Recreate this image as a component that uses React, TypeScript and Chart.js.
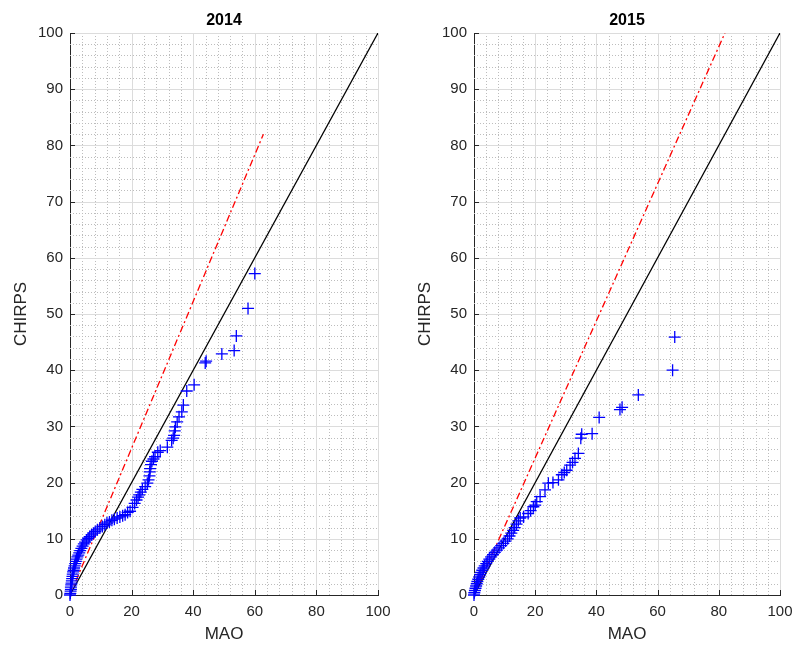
import React, { useEffect, useRef } from 'react';
import { Chart, registerables } from 'chart.js';

Chart.register(...registerables);

// ---------- data ----------
const panelTitles = ['2014', '2015'];

const mao2014 = [
  0, 0.1, 0.2, 0.3, 0.3, 0.4, 0.5, 0.6, 0.7, 0.8, 0.9, 1.0, 1.2, 1.3, 1.5, 1.7, 1.9, 2.1, 2.4, 2.7,
  3.0, 3.3, 3.7, 4.1, 4.5, 4.9, 5.4, 5.9, 6.4, 7.0, 7.6, 8.2, 8.9, 9.7, 10.5, 11.3, 12.0, 12.8, 13.6, 14.4,
  15.3, 16.2, 17.1, 17.9, 18.7, 19.5, 20.3, 21.0, 21.6, 22.1, 22.5, 23.0, 23.5, 24.4, 25.1, 25.5, 25.8, 25.9, 26.0, 26.3,
  26.6, 27.1, 27.6, 28.5, 29.3, 31.6, 33.0, 33.5, 33.8, 34.0, 34.2, 34.8, 35.4, 36.3, 36.8, 37.9, 40.3, 43.9, 44.2, 49.3,
  53.3, 54.0, 57.8, 60.0,
];
const chirps2014 = [
  0, 0.3, 0.7, 1.0, 1.4, 1.8, 2.1, 2.5, 2.9, 3.3, 3.7, 4.1, 4.4, 4.8, 5.2, 5.6, 6.0, 6.4, 6.8, 7.1,
  7.5, 7.9, 8.3, 8.7, 9.1, 9.4, 9.8, 10.1, 10.4, 10.7, 11.0, 11.3, 11.6, 11.9, 12.2, 12.5, 12.8, 13.0, 13.3, 13.5,
  13.7, 13.9, 14.1, 14.3, 14.7, 14.9, 15.6, 16.3, 16.9, 17.4, 17.8, 18.3, 18.8, 19.3, 19.9, 20.5, 21.2, 21.9, 22.5, 23.2,
  23.8, 24.2, 24.6, 25.4, 25.7, 26.3, 27.5, 27.9, 28.4, 29.2, 29.9, 30.8, 31.7, 32.6, 33.8, 36.3, 37.4, 41.3, 41.6, 42.9,
  43.5, 46.1, 51.0, 57.2,
];

const mao2015 = [
  0, 0.1, 0.3, 0.5, 0.7, 0.9, 1.1, 1.4, 1.7, 2.0, 2.3, 2.7, 3.1, 3.5, 4.0, 4.5, 5.0, 5.6, 6.2, 6.8,
  7.5, 8.2, 8.9, 9.6, 10.3, 11.0, 11.6, 12.2, 12.8, 13.3, 13.9, 14.5, 15.1, 16.2, 17.7, 18.5, 19.4, 20.0, 20.5, 21.6,
  23.2, 24.3, 25.8, 27.6, 28.7, 29.5, 30.3, 31.4, 32.2, 33.0, 34.1, 34.9, 35.2, 38.6, 40.9, 47.7, 48.4, 53.7, 64.9, 65.6,
];
const chirps2015 = [
  0, 0.4, 0.8, 1.2, 1.6, 2.0, 2.4, 2.8, 3.2, 3.6, 4.0, 4.4, 4.8, 5.2, 5.6, 6.0, 6.4, 6.8, 7.2, 7.6,
  8.0, 8.4, 8.8, 9.2, 9.6, 10.0, 10.5, 11.0, 11.5, 12.0, 12.6, 13.2, 13.7, 13.9, 14.5, 15.0, 15.7, 16.0, 16.6, 17.5,
  18.7, 19.9, 20.0, 20.5, 21.4, 21.8, 22.2, 23.1, 23.6, 24.3, 25.2, 27.9, 28.6, 28.7, 31.6, 33.0, 33.4, 35.6, 40.0, 45.9,
];

// 1:1 reference line
const refX = [0, 100];
const refY = [0, 100];

// fitted (dash-dot) lines
const fitX2014 = [0, 62.8];
const fitY2014 = [0, 82.0];
const fitX2015 = [0, 82.0];
const fitY2015 = [0, 100.0];

const xMajor = [0, 20, 40, 60, 80, 100];
const yMajor = [0, 10, 20, 30, 40, 50, 60, 70, 80, 90, 100];
const xMinorStep = 4;
const yMinorStep = 2;

const FONT = "Arial, 'Liberation Sans', Helvetica, sans-serif";
const AXIS_COLOR = '#262626';

const zip = (xs: number[], ys: number[]) => xs.map((x, i) => ({ x, y: ys[i] }));

const matlabPlugin = {
  id: 'matlabDecor',
  beforeDatasetsDraw(chart: any) {
    const { ctx, chartArea: a, scales } = chart;
    const xs = scales.x;
    const ys = scales.y;
    ctx.save();
    // minor dotted grid
    ctx.strokeStyle = '#bdbdbd';
    ctx.lineWidth = 1;
    ctx.setLineDash([1, 2]);
    for (let v = 0; v <= 100; v += xMinorStep) {
      if (xMajor.includes(v)) continue;
      const px = Math.round(xs.getPixelForValue(v)) + 0.5;
      ctx.beginPath();
      ctx.moveTo(px, a.top);
      ctx.lineTo(px, a.bottom);
      ctx.stroke();
    }
    for (let v = 0; v <= 100; v += yMinorStep) {
      if (yMajor.includes(v)) continue;
      const py = Math.round(ys.getPixelForValue(v)) + 0.5;
      ctx.beginPath();
      ctx.moveTo(a.left, py);
      ctx.lineTo(a.right, py);
      ctx.stroke();
    }
    // major grid
    ctx.setLineDash([]);
    ctx.strokeStyle = '#dcdcdc';
    xMajor.forEach((v) => {
      if (v === 0) return;
      const px = Math.round(xs.getPixelForValue(v)) + 0.5;
      ctx.beginPath();
      ctx.moveTo(px, a.top);
      ctx.lineTo(px, a.bottom);
      ctx.stroke();
    });
    yMajor.forEach((v) => {
      if (v === 0) return;
      const py = Math.round(ys.getPixelForValue(v)) + 0.5;
      ctx.beginPath();
      ctx.moveTo(a.left, py);
      ctx.lineTo(a.right, py);
      ctx.stroke();
    });
    // inward tick marks
    ctx.strokeStyle = AXIS_COLOR;
    xMajor.forEach((v) => {
      const px = Math.round(xs.getPixelForValue(v)) + 0.5;
      ctx.beginPath();
      ctx.moveTo(px, a.bottom);
      ctx.lineTo(px, a.bottom - 5);
      ctx.stroke();
    });
    yMajor.forEach((v) => {
      const py = Math.round(ys.getPixelForValue(v)) + 0.5;
      ctx.beginPath();
      ctx.moveTo(a.left, py);
      ctx.lineTo(a.left + 5, py);
      ctx.stroke();
    });
    ctx.restore();
  },
  afterDraw(chart: any) {
    const { ctx, chartArea: a } = chart;
    const title = chart.options.plugins.matlabDecor?.title || '';
    ctx.save();
    ctx.font = `bold 16px ${FONT}`;
    ctx.fillStyle = '#000';
    ctx.textAlign = 'center';
    ctx.textBaseline = 'middle';
    ctx.fillText(title, (a.left + a.right) / 2, 21);
    ctx.restore();
  },
};

type PanelProps = {
  title: string;
  mao: number[];
  chirps: number[];
  fitX: number[];
  fitY: number[];
  left: number;
  width: number;
  padRight: number;
};

function Panel({ title, mao, chirps, fitX, fitY, left, width, padRight }: PanelProps) {
  const ref = useRef<HTMLCanvasElement>(null);
  useEffect(() => {
    const chart = new Chart(ref.current!, {
      type: 'scatter',
      data: {
        datasets: [
          {
            label: 'quantiles',
            data: zip(mao, chirps),
            pointStyle: 'cross',
            pointRadius: 6,
            pointBorderWidth: 1.3,
            borderColor: '#0000ff',
            backgroundColor: '#0000ff',
            showLine: false,
            clip: false as any,
            order: 0,
          },
          {
            label: '1:1',
            data: zip(refX, refY),
            showLine: true,
            pointRadius: 0,
            borderColor: '#000000',
            borderWidth: 1.3,
            order: 1,
          },
          {
            label: 'fit',
            data: zip(fitX, fitY),
            showLine: true,
            pointRadius: 0,
            borderColor: '#ff0000',
            borderWidth: 1.3,
            borderDash: [7, 3, 2, 3],
            order: 2,
          },
        ],
      },
      options: {
        animation: false,
        responsive: false,
        devicePixelRatio: 1,
        layout: { padding: { top: 33, right: padRight, bottom: 0, left: 0 } },
        plugins: {
          legend: { display: false },
          tooltip: { enabled: false },
          matlabDecor: { title },
        } as any,
        scales: {
          x: {
            type: 'linear',
            min: 0,
            max: 100,
            afterFit: (s: any) => {
              s.height = 50;
              s.paddingLeft = 0;
              s.paddingRight = 0;
            },
            afterBuildTicks: (s: any) => {
              s.ticks = xMajor.map((v) => ({ value: v }));
            },
            grid: { display: false, drawTicks: false },
            border: { display: true, color: AXIS_COLOR, width: 1 },
            ticks: {
              color: AXIS_COLOR,
              font: { family: FONT, size: 15 },
              padding: 8,
              maxRotation: 0,
            },
            title: {
              display: true,
              text: 'MAO',
              color: AXIS_COLOR,
              font: { family: FONT, size: 17 },
              padding: { top: 0, bottom: 0 },
            },
          },
          y: {
            type: 'linear',
            min: 0,
            max: 100,
            afterFit: (s: any) => {
              s.width = 70;
              s.paddingTop = 0;
              s.paddingBottom = 0;
            },
            afterBuildTicks: (s: any) => {
              s.ticks = yMajor.map((v) => ({ value: v }));
            },
            grid: { display: false, drawTicks: false },
            border: { display: true, color: AXIS_COLOR, width: 1 },
            ticks: {
              color: AXIS_COLOR,
              font: { family: FONT, size: 15 },
              padding: 7,
            },
            title: {
              display: true,
              text: 'CHIRPS',
              color: AXIS_COLOR,
              font: { family: FONT, size: 17 },
              padding: { top: 11, bottom: 0 },
            },
          },
        },
      },
      plugins: [matlabPlugin],
    } as any);
    return () => chart.destroy();
  }, []);
  return (
    <canvas
      ref={ref}
      width={width}
      height={645}
      style={{ position: 'absolute', left, top: 0, width, height: 645 }}
    />
  );
}

export default function App() {
  return (
    <div
      style={{
        position: 'fixed',
        left: 0,
        top: 0,
        width: 796,
        height: 645,
        background: '#ffffff',
        overflow: 'hidden',
      }}
    >
      <Panel
        title={panelTitles[0]}
        mao={mao2014}
        chirps={chirps2014}
        fitX={fitX2014}
        fitY={fitY2014}
        left={0}
        width={398}
        padRight={20}
      />
      <Panel
        title={panelTitles[1]}
        mao={mao2015}
        chirps={chirps2015}
        fitX={fitX2015}
        fitY={fitY2015}
        left={404}
        width={392}
        padRight={16}
      />
    </div>
  );
}
